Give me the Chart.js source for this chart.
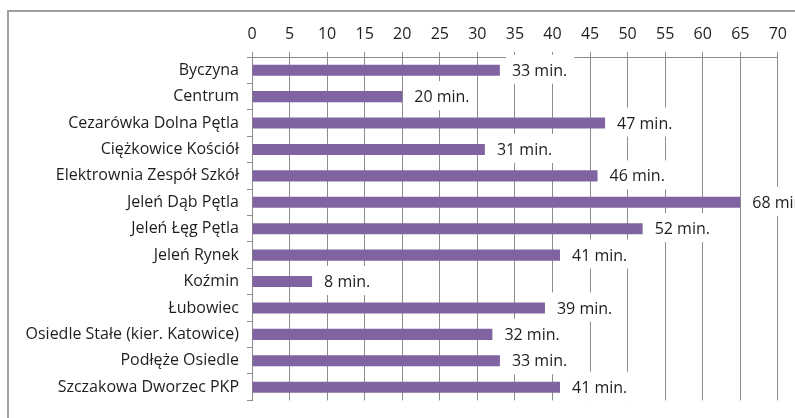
<!DOCTYPE html>
<html>
<head>
<meta charset="utf-8">
<script src="https://cdn.jsdelivr.net/npm/chart.js@4"></script>
<style>
    html, body { margin: 0; padding: 0; background: #fff; }
    .wrap { position: relative; width: 795px; height: 418px; overflow: hidden; }
    .frame { position: absolute; left: 7px; top: 10px; width: 900px; height: 500px;
             border-left: 2px solid #a0a0a0; border-top: 2px solid #a0a0a0; }
    canvas { position: absolute; left: 0; top: 0; }
</style>
</head>
<body>
<div class="wrap">
    <div class="frame"></div>
    <canvas id="barChart" width="795" height="418"></canvas>
</div>
<script>
const stops = [
    "Byczyna",
    "Centrum",
    "Cezarówka Dolna Pętla",
    "Ciężkowice Kościół",
    "Elektrownia Zespół Szkół",
    "Jeleń Dąb Pętla",
    "Jeleń Łęg Pętla",
    "Jeleń Rynek",
    "Koźmin",
    "Łubowiec",
    "Osiedle Stałe (kier. Katowice)",
    "Podłęże Osiedle",
    "Szczakowa Dworzec PKP",
];
// bar lengths as drawn in the picture (the 68 min. bar stops at 65)
const barMinutes = [33, 20, 47, 31, 46, 65, 52, 41, 8, 39, 32, 33, 41];
// numbers written next to the bars
const labelMinutes = [33, 20, 47, 31, 46, 68, 52, 41, 8, 39, 32, 33, 41];
const axisMax = 70;
const axisStep = 5;

const fontFamily = "'Open Sans', sans-serif";
const fontSize = 16;
const textColor = "#1e1e1e";
const lineColor = "#8c8c8c";

// white boxed labels at the bar ends, they hide the grid behind them
const barEndLabels = {
    id: "barEndLabels",
    afterDatasetsDraw(chart) {
        const ctx = chart.ctx;
        const bars = chart.getDatasetMeta(0).data;
        ctx.save();
        ctx.font = fontSize + "px " + fontFamily;
        ctx.textBaseline = "middle";
        ctx.textAlign = "left";
        bars.forEach(function(bar, i) {
            let text = labelMinutes[i] + " min.";
            let textX = bar.x + 12;
            let w = ctx.measureText(text).width;
            ctx.fillStyle = "#fff";
            ctx.fillRect(bar.x + 6, bar.y - 15.5, w + 13, 29);
            ctx.fillStyle = textColor;
            ctx.fillText(text, textX, bar.y + 1);
        });
        ctx.restore();
    },
};

new Chart(document.getElementById("barChart"), {
    type: "bar",
    data: {
        labels: stops,
        datasets: [
            {
                data: barMinutes,
                backgroundColor: "#8064a2",
                borderWidth: 0,
                categoryPercentage: 1,
                barPercentage: 0.42,
            },
        ],
    },
    options: {
        indexAxis: "y",
        responsive: false,
        animation: false,
        layout: {
            padding: { left: 0, right: 17, top: 0, bottom: 14 },
        },
        plugins: {
            legend: { display: false },
            tooltip: { enabled: false },
        },
        scales: {
            x: {
                position: "top",
                min: 0,
                max: axisMax,
                afterFit(scale) { scale.height = 57; },
                ticks: {
                    stepSize: axisStep,
                    color: textColor,
                    padding: 8,
                    font: { family: fontFamily, size: fontSize },
                },
                grid: {
                    color: lineColor,
                    tickLength: 5,
                },
                border: { color: lineColor },
            },
            y: {
                afterFit(scale) { scale.width = 252; },
                ticks: {
                    color: textColor,
                    padding: 8,
                    font: { family: fontFamily, size: fontSize },
                },
                grid: {
                    drawOnChartArea: false,
                    color: lineColor,
                    tickLength: 5,
                },
                border: { color: lineColor },
            },
        },
    },
    plugins: [barEndLabels],
});
</script>
</body>
</html>
